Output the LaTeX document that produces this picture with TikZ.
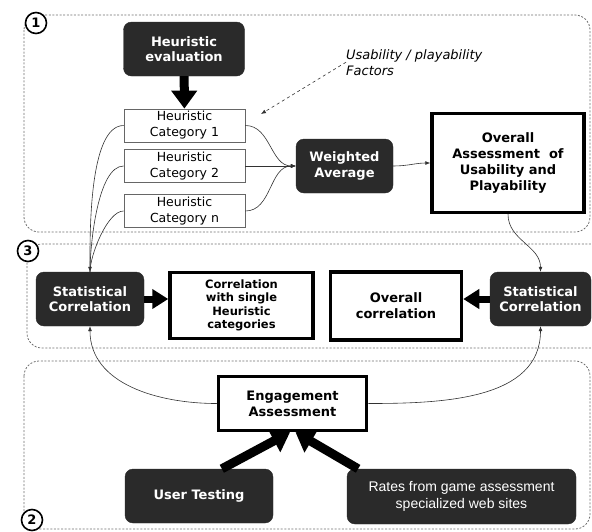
\documentclass[tikz,border=0pt]{standalone}
\usepackage{fontspec}
\setmainfont{DejaVu Sans}
\newfontfamily\ratesfont{Liberation Sans}
\usepackage{tikz}
\usetikzlibrary{arrows.meta, positioning}
\definecolor{boxdark}{RGB}{42,42,42}
\definecolor{zonegray}{RGB}{110,110,110}
\definecolor{linkgray}{RGB}{50,50,50}
\tikzset{
  darkblock/.style={rectangle, rounded corners=8pt, fill=boxdark, draw=boxdark,
    text=white, align=center, inner sep=0pt,
    font=\fontsize{13}{15.5}\selectfont\bfseries},
  resultblock/.style={rectangle, draw=black, line width=3.5pt, fill=white,
    align=center, inner sep=0pt, font=\fontsize{13}{16}\selectfont\bfseries},
  catblock/.style={rectangle, draw=black!60, line width=0.8pt, fill=white,
    align=center, inner sep=0pt, minimum width=121pt, minimum height=33pt,
    font=\fontsize{12.5}{16}\selectfont},
  zone/.style={rounded corners=15pt, draw=zonegray, line width=0.8pt,
    dash pattern=on 2pt off 1.6pt},
  zonenum/.style={circle, draw=black, line width=1.6pt, fill=white,
    inner sep=0pt, minimum size=21pt, font=\fontsize{13}{13}\selectfont\bfseries},
  link/.style={-{Latex[length=5pt,width=4pt]}, line width=0.6pt, color=linkgray},
  linkline/.style={line width=0.6pt, color=linkgray},
  fatarrow/.style={-{Triangle[length=18pt,width=25pt]}, line width=9pt},
  midarrow/.style={-{Triangle[length=16pt,width=19pt]}, line width=7pt},
}

\begin{document}
\begin{tikzpicture}[x=1pt, y=-1pt]
  \useasboundingbox (0,0) rectangle (592,531);

  %% Zones
  \draw[zone] (24,15) rectangle (590,232);
  \draw[zone] (27,244) rectangle (620,348);
  \draw[zone] (24,361) rectangle (590,529);

  %% Zone 1: heuristic evaluation
  \node[darkblock, minimum width=121pt, minimum height=54pt] (heval) at (184,49)
    {Heuristic\\evaluation};
  \node[catblock] (cat1) at (184.5,125.5) {Heuristic\\Category 1};
  \node[catblock] (cat2) at (184.5,166) {Heuristic\\Category 2};
  \node[catblock] (catn) at (184.5,211) {Heuristic\\Category n};
  \node[darkblock, minimum width=97pt, minimum height=54pt] (wavg) at (344.5,166)
    {Weighted\\Average};
  \node[resultblock, minimum width=152pt, minimum height=99pt] (overall) at (508,163)
    {Overall\\Assessment\ \ of\\Usability and\\Playability};
  \node[anchor=north west, align=left, inner sep=0pt,
        font=\fontsize{13}{16}\selectfont\itshape] (factors) at (346,49)
    {Usability / playability\\Factors};
  \coordinate (factorpt) at (261,114);

  %% Zone 3: correlation
  \node[darkblock, minimum width=108pt, minimum height=54pt] (stat1) at (90,299)
    {Statistical\\Correlation};
  \node[resultblock, minimum width=143pt, minimum height=66pt,
        font=\fontsize{11.5}{13.5}\selectfont\bfseries] (corsingle) at (241.5,305.5)
    {Correlation\\with single\\Heuristic\\categories};
  \node[resultblock, minimum width=131pt, minimum height=68pt] (corall) at (396,306)
    {Overall\\correlation};
  \node[darkblock, minimum width=101pt, minimum height=54pt] (stat2) at (540.5,299)
    {Statistical\\Correlation};

  %% Zone 2: engagement
  \node[resultblock, minimum width=148pt, minimum height=54pt] (engage) at (292.5,403.5)
    {Engagement\\Assessment};
  \node[darkblock, minimum width=148pt, minimum height=54pt] (usertest) at (199,496)
    {User Testing};
  \node[darkblock, minimum width=229pt, minimum height=55pt,
        font=\ratesfont\fontsize{14}{17}\selectfont] (rates) at (461.5,496.5)
    {Rates from game assessment\\specialized web sites};

  %% Zone numbers
  \node[zonenum] (z1) at (36,23) {1};
  \node[zonenum] (z3) at (28,251) {3};
  \node[zonenum] (z2) at (32,520) {2};

  %% Connectors
  \draw[fatarrow] (heval) -- (cat1);
  \draw[link] (cat1.east) to[out=0, in=180] (wavg.west);
  \draw[link] (cat2.east) -- (wavg.west);
  \draw[link] (catn.east) to[out=0, in=180] (wavg.west);
  \draw[link] (wavg.east) to[out=0, in=180] (overall.west);
  \draw[link, dashed] (factors.west) -- (factorpt);

  \draw[link] (cat1.west) to[out=180, in=90, looseness=0.6] (stat1.north);
  \draw[linkline] (cat2.west) to[out=180, in=90, looseness=0.6] (stat1.north);
  \draw[linkline] (catn.west) to[out=180, in=90, looseness=0.6] (stat1.north);
  \draw[link] (overall.south) to[out=-90, in=90] (stat2.north);

  \draw[midarrow] (stat1.east) -- (stat1.east -| corsingle.west);
  \draw[midarrow] (stat2.west) -- (stat2.west -| corall.east);

  \draw[link] (engage.west) to[out=180, in=-90] (stat1.south);
  \draw[link] (engage.east) to[out=0, in=-90] (stat2.south);
  \draw[fatarrow] (usertest.50) -- (engage.-95);
  \draw[fatarrow] (rates.165) -- (engage.-84);

\end{tikzpicture}
\end{document}
